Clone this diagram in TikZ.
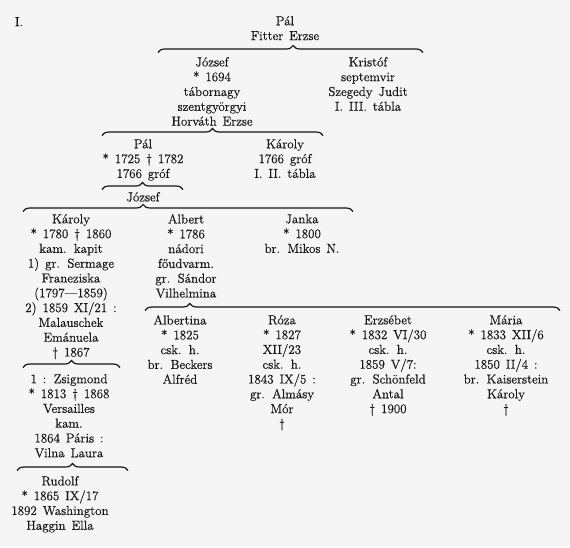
\documentclass[tikz,border=0pt]{standalone}
\usepackage{fontspec}
\setmainfont{Latin Modern Roman}[FakeBold=0.5, WordSpace=1.4]
\usepackage{tikz}
\usetikzlibrary{decorations.pathreplacing}
\definecolor{paper}{RGB}{245,245,245}
\definecolor{ink}{RGB}{22,22,22}
\newcommand{\mh}{\textdagger}

\begin{document}
\begin{tikzpicture}[x=1pt, y=-1pt,
    person/.style={align=center, inner sep=0pt, anchor=north, text=ink,
                   font=\fontsize{13}{14.8}\selectfont},
    fam/.style={draw=ink, line width=1.2pt, decorate,
                decoration={brace, amplitude=7pt, aspect=#1}},
    fam/.default=0.5
]
\path[use as bounding box, fill=paper] (0,0) rectangle (570,547);
% ============== top: Pál and his sons ==================
\node[person] (tabla) at (19,17) {I.};
\node[person] (pal0) at (285,16) {Pál\\Fitter Erzse};
\coordinate (b1l) at (158,52.5);
\coordinate (b1r) at (423,52.5);
\draw[fam=0.51] (b1l) -- (b1r);
\node[person] (jozsef1) at (212,57) {József\\* 1694\\tábornagy\\szentgyörgyi\\Horváth Erzse};
\node[person] (kristof) at (368,57) {Kristóf\\septemvir\\Szegedy Judit\\I. III. tábla};
% ============== József's sons ==================
\coordinate (b2l) at (102,135.5);
\coordinate (b2r) at (323,135.5);
\draw[fam] (b2l) -- (b2r);
\node[person] (pal1) at (143,139) {Pál\\* 1725 \mh{} 1782\\1766 gróf};
\node[person] (karoly1) at (285,139) {Károly\\1766 gróf\\I. II. tábla};
\coordinate (b3l) at (102,189.5);
\coordinate (b3r) at (183,189.5);
\draw[fam] (b3l) -- (b3r);
\node[person] (jozsef2) at (143,192) {József};
% ============== József's children ==================
\coordinate (b4l) at (23,211.5);
\coordinate (b4r) at (353,211.5);
\draw[fam=0.364] (b4l) -- (b4r);
\node[person] (karoly2) at (71,214) {Károly\\* 1780 \mh{} 1860\\kam. kapit\\1) gr. Sermage\\Franeziska\\(1797—1859)\\2) 1859 XI/21 :\\Malauschek\\Emánuela\\\mh{} 1867};
\node[person] (albert) at (186,214) {Albert\\* 1786\\nádori\\főudvarm.\\gr. Sándor\\Vilhelmina};
\node[person] (janka) at (302,214) {Janka\\* 1800\\br. Mikos N.};
% ============== Albert's daughters ==================
\coordinate (b5l) at (145,310.5);
\coordinate (b5r) at (560,310.5);
\draw[fam=0.108] (b5l) -- (b5r);
\node[person] (albertina) at (180,315) {Albertina\\* 1825\\csk. h.\\br. Beckers\\Alfréd};
\node[person] (roza) at (282,315) {Róza\\* 1827\\XII/23\\csk. h.\\1843 IX/5 :\\gr. Almásy\\Mór\\\mh};
\node[person] (erzsebet) at (388,315) {Erzsébet\\* 1832 VI/30\\csk. h.\\1859 V/7:\\gr. Schönfeld\\Antal\\\mh{} 1900};
\node[person] (maria) at (506,315) {Mária\\* 1833 XII/6\\csk. h.\\1850 II/4 :\\br. Kaiserstein\\Károly\\\mh};
% ============== Károly's line ==================
\coordinate (b6l) at (23,367.5);
\coordinate (b6r) at (120,367.5);
\draw[fam] (b6l) -- (b6r);
\node[person] (zsigmond) at (69,374) {1 : Zsigmond\\* 1813 \mh{} 1868\\Versailles\\kam.\\1864 Páris :\\Vilna Laura};
\coordinate (b7l) at (17,470.5);
\coordinate (b7r) at (128,470.5);
\draw[fam] (b7l) -- (b7r);
\node[person] (rudolf) at (60,476) {Rudolf\\* 1865 IX/17\\1892 Washington\\Haggin Ella};
\end{tikzpicture}
\end{document}
